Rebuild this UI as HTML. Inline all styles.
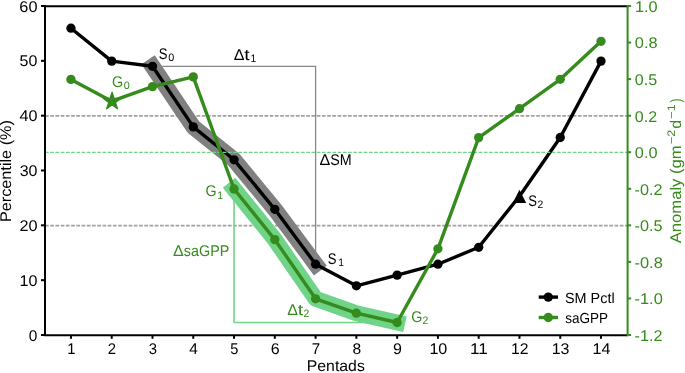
<!DOCTYPE html><html><head><meta charset="utf-8"><style>html,body{margin:0;padding:0;background:#fff;}svg{display:block;}text{font-family:"Liberation Sans", sans-serif;text-rendering:geometricPrecision;}</style></head><body>
<svg width="685" height="373" viewBox="0 0 685 373">
<rect x="0" y="0" width="685" height="373" fill="#fff"/>
<line x1="44.3" y1="225.53" x2="627.6" y2="225.53" stroke="#a2a2a2" stroke-width="1.7" stroke-dasharray="3.72 1.505" stroke-dashoffset="-0.7"/>
<line x1="44.3" y1="115.87" x2="627.6" y2="115.87" stroke="#a2a2a2" stroke-width="1.7" stroke-dasharray="3.72 1.505" stroke-dashoffset="-0.7"/>
<polyline points="152.50,66.30 193.27,126.90 234.05,159.80 274.82,209.30 315.60,264.20" fill="none" stroke="#808080" stroke-width="16" stroke-linejoin="round" stroke-linecap="square"/>
<polyline points="152.50,66.3 315.60,66.3 315.60,264.2" fill="none" stroke="#888" stroke-width="1.3"/>
<polyline points="70.95,28.20 111.72,61.10 152.50,66.30 193.27,126.90 234.05,159.80 274.82,209.30 315.60,264.20 356.38,285.80 397.15,275.10 437.92,264.20 478.70,247.30 519.48,196.20 560.25,137.50 601.02,61.10" fill="none" stroke="#000" stroke-width="3.4" stroke-linejoin="round"/>
<circle cx="70.95" cy="28.2" r="4.65" fill="#000"/>
<circle cx="111.72" cy="61.1" r="4.65" fill="#000"/>
<circle cx="152.50" cy="66.3" r="4.65" fill="#000"/>
<circle cx="193.27" cy="126.9" r="4.65" fill="#000"/>
<circle cx="234.05" cy="159.8" r="4.65" fill="#000"/>
<circle cx="274.82" cy="209.3" r="4.65" fill="#000"/>
<circle cx="315.60" cy="264.2" r="4.65" fill="#000"/>
<circle cx="356.38" cy="285.8" r="4.65" fill="#000"/>
<circle cx="397.15" cy="275.1" r="4.65" fill="#000"/>
<circle cx="437.92" cy="264.2" r="4.65" fill="#000"/>
<circle cx="478.70" cy="247.3" r="4.65" fill="#000"/>
<polygon points="519.48,189.70 512.77,203.10 526.18,203.10" fill="#000"/>
<circle cx="560.25" cy="137.5" r="4.65" fill="#000"/>
<circle cx="601.02" cy="61.1" r="4.65" fill="#000"/>
<line x1="44.3" y1="152.45" x2="627.6" y2="152.45" stroke="#6fd488" stroke-width="1.3" stroke-dasharray="3.72 1.505" stroke-dashoffset="-0.7"/>
<polyline points="234.05,189.00 274.82,239.60 315.60,298.80 356.38,313.20 397.15,322.50" fill="none" stroke="#6fd488" stroke-width="16" stroke-linejoin="round" stroke-linecap="square"/>
<polyline points="234.05,189.0 234.05,322.5 397.15,322.5" fill="none" stroke="#6fd488" stroke-width="1.6" stroke-linejoin="round"/>
<polyline points="70.95,79.40 111.72,101.20 152.50,86.60 193.27,76.90 234.05,189.00 274.82,239.60 315.60,298.80 356.38,313.20 397.15,322.50 437.92,248.80 478.70,137.60 519.48,108.70 560.25,79.30 601.02,41.30" fill="none" stroke="#358b1c" stroke-width="3.4" stroke-linejoin="round"/>
<circle cx="70.95" cy="79.4" r="4.65" fill="#358b1c"/>
<circle cx="152.50" cy="86.6" r="4.65" fill="#358b1c"/>
<circle cx="193.27" cy="76.9" r="4.65" fill="#358b1c"/>
<circle cx="234.05" cy="189.0" r="4.65" fill="#358b1c"/>
<circle cx="274.82" cy="239.6" r="4.65" fill="#358b1c"/>
<circle cx="315.60" cy="298.8" r="4.65" fill="#358b1c"/>
<circle cx="356.38" cy="313.2" r="4.65" fill="#358b1c"/>
<circle cx="397.15" cy="322.5" r="4.65" fill="#358b1c"/>
<circle cx="437.92" cy="248.8" r="4.65" fill="#358b1c"/>
<circle cx="478.70" cy="137.6" r="4.65" fill="#358b1c"/>
<circle cx="519.48" cy="108.7" r="4.65" fill="#358b1c"/>
<circle cx="560.25" cy="79.3" r="4.65" fill="#358b1c"/>
<circle cx="601.02" cy="41.3" r="4.65" fill="#358b1c"/>
<polygon points="112.07,92.20 114.13,98.52 120.78,98.52 115.40,102.43 117.45,108.75 112.07,104.84 106.70,108.75 108.75,102.43 103.37,98.52 110.02,98.52" fill="#358b1c" stroke="#358b1c" stroke-width="1.3" stroke-linejoin="round"/>
<line x1="45.0" y1="6.0" x2="45.0" y2="335.0" stroke="#000" stroke-width="2" stroke-linecap="square"/>
<line x1="45.0" y1="335.15" x2="627.6" y2="335.15" stroke="#000" stroke-width="2" stroke-linecap="square"/>
<line x1="45.0" y1="6.25" x2="627.6" y2="6.25" stroke="#000" stroke-width="2" stroke-linecap="square"/>
<line x1="627.6" y1="6.0" x2="627.6" y2="335.0" stroke="#358b1c" stroke-width="2" stroke-linecap="square"/>
<line x1="41.0" y1="335.00" x2="45.0" y2="335.00" stroke="#000" stroke-width="2"/>
<line x1="41.0" y1="280.17" x2="45.0" y2="280.17" stroke="#000" stroke-width="2"/>
<line x1="41.0" y1="225.33" x2="45.0" y2="225.33" stroke="#000" stroke-width="2"/>
<line x1="41.0" y1="170.50" x2="45.0" y2="170.50" stroke="#000" stroke-width="2"/>
<line x1="41.0" y1="115.67" x2="45.0" y2="115.67" stroke="#000" stroke-width="2"/>
<line x1="41.0" y1="60.83" x2="45.0" y2="60.83" stroke="#000" stroke-width="2"/>
<line x1="41.0" y1="6.00" x2="45.0" y2="6.00" stroke="#000" stroke-width="2"/>
<line x1="627.6" y1="335.00" x2="631.1" y2="335.00" stroke="#358b1c" stroke-width="2"/>
<line x1="627.6" y1="298.44" x2="631.1" y2="298.44" stroke="#358b1c" stroke-width="2"/>
<line x1="627.6" y1="261.89" x2="631.1" y2="261.89" stroke="#358b1c" stroke-width="2"/>
<line x1="627.6" y1="225.33" x2="631.1" y2="225.33" stroke="#358b1c" stroke-width="2"/>
<line x1="627.6" y1="188.78" x2="631.1" y2="188.78" stroke="#358b1c" stroke-width="2"/>
<line x1="627.6" y1="152.22" x2="631.1" y2="152.22" stroke="#358b1c" stroke-width="2"/>
<line x1="627.6" y1="115.67" x2="631.1" y2="115.67" stroke="#358b1c" stroke-width="2"/>
<line x1="627.6" y1="79.11" x2="631.1" y2="79.11" stroke="#358b1c" stroke-width="2"/>
<line x1="627.6" y1="42.56" x2="631.1" y2="42.56" stroke="#358b1c" stroke-width="2"/>
<line x1="627.6" y1="6.00" x2="631.1" y2="6.00" stroke="#358b1c" stroke-width="2"/>
<line x1="70.95" y1="335.0" x2="70.95" y2="338.8" stroke="#000" stroke-width="2"/>
<line x1="111.72" y1="335.0" x2="111.72" y2="338.8" stroke="#000" stroke-width="2"/>
<line x1="152.50" y1="335.0" x2="152.50" y2="338.8" stroke="#000" stroke-width="2"/>
<line x1="193.27" y1="335.0" x2="193.27" y2="338.8" stroke="#000" stroke-width="2"/>
<line x1="234.05" y1="335.0" x2="234.05" y2="338.8" stroke="#000" stroke-width="2"/>
<line x1="274.82" y1="335.0" x2="274.82" y2="338.8" stroke="#000" stroke-width="2"/>
<line x1="315.60" y1="335.0" x2="315.60" y2="338.8" stroke="#000" stroke-width="2"/>
<line x1="356.38" y1="335.0" x2="356.38" y2="338.8" stroke="#000" stroke-width="2"/>
<line x1="397.15" y1="335.0" x2="397.15" y2="338.8" stroke="#000" stroke-width="2"/>
<line x1="437.92" y1="335.0" x2="437.92" y2="338.8" stroke="#000" stroke-width="2"/>
<line x1="478.70" y1="335.0" x2="478.70" y2="338.8" stroke="#000" stroke-width="2"/>
<line x1="519.48" y1="335.0" x2="519.48" y2="338.8" stroke="#000" stroke-width="2"/>
<line x1="560.25" y1="335.0" x2="560.25" y2="338.8" stroke="#000" stroke-width="2"/>
<line x1="601.02" y1="335.0" x2="601.02" y2="338.8" stroke="#000" stroke-width="2"/>
<line x1="538.7" y1="297.1" x2="558" y2="297.1" stroke="#000" stroke-width="3.4"/>
<circle cx="548.3" cy="297.1" r="4.65" fill="#000"/>
<line x1="538.7" y1="317.5" x2="558" y2="317.5" stroke="#358b1c" stroke-width="3.4"/>
<circle cx="548.3" cy="317.5" r="4.65" fill="#358b1c"/>
<g style="will-change:transform">
<text transform="translate(28.83,340.65) scale(0.9975,1)" font-size="15.51" fill="#000">0</text>
<text transform="translate(19.52,285.82) scale(1.0400,1)" font-size="15.51" fill="#000">10</text>
<text transform="translate(19.39,230.98) scale(1.0478,1)" font-size="15.51" fill="#000">20</text>
<text transform="translate(19.64,176.15) scale(1.0329,1)" font-size="15.51" fill="#000">30</text>
<text transform="translate(19.48,121.32) scale(1.0425,1)" font-size="15.51" fill="#000">40</text>
<text transform="translate(19.62,66.48) scale(1.0340,1)" font-size="15.51" fill="#000">50</text>
<text transform="translate(19.33,11.65) scale(1.0516,1)" font-size="15.51" fill="#000">60</text>
<text transform="translate(634.50,340.85) scale(1.0465,1)" font-size="15.51" fill="#358b1c">-1.2</text>
<text transform="translate(634.50,304.29) scale(1.0591,1)" font-size="15.51" fill="#358b1c">-1.0</text>
<text transform="translate(634.50,267.74) scale(1.0606,1)" font-size="15.51" fill="#358b1c">-0.8</text>
<text transform="translate(634.50,231.18) scale(1.0489,1)" font-size="15.51" fill="#358b1c">-0.5</text>
<text transform="translate(634.50,194.63) scale(1.0465,1)" font-size="15.51" fill="#358b1c">-0.2</text>
<text transform="translate(634.83,158.07) scale(1.0514,1)" font-size="15.51" fill="#358b1c">0.0</text>
<text transform="translate(634.84,121.52) scale(1.0355,1)" font-size="15.51" fill="#358b1c">0.2</text>
<text transform="translate(634.84,84.96) scale(1.0386,1)" font-size="15.51" fill="#358b1c">0.5</text>
<text transform="translate(634.83,48.41) scale(1.0531,1)" font-size="15.51" fill="#358b1c">0.8</text>
<text transform="translate(634.88,11.85) scale(1.0492,1)" font-size="15.51" fill="#358b1c">1.0</text>
<text transform="translate(67.17,353.50) scale(0.9527,1)" font-size="15.51" fill="#000">1</text>
<text transform="translate(107.78,353.50) scale(0.9606,1)" font-size="15.51" fill="#000">2</text>
<text transform="translate(148.78,353.50) scale(0.9580,1)" font-size="15.51" fill="#000">3</text>
<text transform="translate(189.37,353.50) scale(0.9968,1)" font-size="15.51" fill="#000">4</text>
<text transform="translate(230.33,353.50) scale(0.9421,1)" font-size="15.51" fill="#000">5</text>
<text transform="translate(270.77,353.50) scale(1.0323,1)" font-size="15.51" fill="#000">6</text>
<text transform="translate(311.76,353.50) scale(0.9752,1)" font-size="15.51" fill="#000">7</text>
<text transform="translate(352.43,353.50) scale(1.0065,1)" font-size="15.51" fill="#000">8</text>
<text transform="translate(393.06,353.50) scale(1.0300,1)" font-size="15.51" fill="#000">9</text>
<text transform="translate(429.38,353.50) scale(1.0400,1)" font-size="15.51" fill="#000">10</text>
<text transform="translate(470.07,353.50) scale(1.1088,1)" font-size="15.51" fill="#000">11</text>
<text transform="translate(510.95,353.50) scale(1.0190,1)" font-size="15.51" fill="#000">12</text>
<text transform="translate(551.71,353.50) scale(1.0319,1)" font-size="15.51" fill="#000">13</text>
<text transform="translate(592.48,353.50) scale(1.0391,1)" font-size="15.51" fill="#000">14</text>
<text transform="translate(306.77,371.20) scale(1.0204,1)" font-size="15.51" fill="#000">Pentads</text>
<text transform="translate(11.30,222.10) rotate(-90) scale(1.0481,1)" font-size="15.51" fill="#000">Percentile (%)</text>
<text transform="translate(681.00,243.32) rotate(-90) scale(1.0739,1)" font-size="15.51" fill="#358b1c">Anomaly (gm</text>
<text transform="translate(674.70,144.09) rotate(-90) scale(1.1524,1)" font-size="10.85" fill="#358b1c">−2</text>
<text transform="translate(681.00,128.79) rotate(-90) scale(1.0281,1)" font-size="15.51" fill="#358b1c">d</text>
<text transform="translate(674.70,118.64) rotate(-90) scale(1.1585,1)" font-size="10.85" fill="#358b1c">−1</text>
<text transform="translate(681.00,102.38) rotate(-90) scale(0.7997,1)" font-size="15.51" fill="#358b1c">)</text>
<text transform="translate(158.87,58.50) scale(0.8441,1)" font-size="15.51" fill="#000">S</text><text transform="translate(168.36,60.70) scale(0.9975,1)" font-size="10.85" fill="#000">0</text>
<text transform="translate(233.83,59.55) scale(1.0394,1)" font-size="15.51" fill="#000">Δ</text><text transform="translate(244.34,59.55) scale(1.2602,1)" font-size="15.51" fill="#000">t</text><text transform="translate(250.54,61.90) scale(0.9527,1)" font-size="10.85" fill="#000">1</text>
<text transform="translate(319.48,164.85) scale(1.0394,1)" font-size="15.51" fill="#000">Δ</text><text transform="translate(330.20,164.85) scale(0.9199,1)" font-size="15.51" fill="#000">SM</text>
<text transform="translate(327.77,263.50) scale(0.8441,1)" font-size="15.51" fill="#000">S</text><text transform="translate(338.19,266.15) scale(0.9527,1)" font-size="10.85" fill="#000">1</text>
<text transform="translate(528.22,205.60) scale(0.8441,1)" font-size="15.51" fill="#000">S</text><text transform="translate(537.53,207.95) scale(0.9606,1)" font-size="10.85" fill="#000">2</text>
<text transform="translate(111.91,86.80) scale(0.9229,1)" font-size="15.51" fill="#358b1c">G</text><text transform="translate(123.86,88.80) scale(0.9975,1)" font-size="10.85" fill="#358b1c">0</text>
<text transform="translate(205.61,196.40) scale(0.9229,1)" font-size="15.51" fill="#358b1c">G</text><text transform="translate(217.14,198.70) scale(0.9527,1)" font-size="10.85" fill="#358b1c">1</text>
<text transform="translate(173.03,255.90) scale(1.0394,1)" font-size="15.51" fill="#358b1c">Δ</text><text transform="translate(183.82,255.90) scale(0.9277,1)" font-size="15.51" fill="#358b1c">saGPP</text>
<text transform="translate(287.23,314.95) scale(1.0394,1)" font-size="15.51" fill="#358b1c">Δ</text><text transform="translate(297.74,314.95) scale(1.2602,1)" font-size="15.51" fill="#358b1c">t</text><text transform="translate(303.43,316.70) scale(0.9606,1)" font-size="10.85" fill="#358b1c">2</text>
<text transform="translate(411.21,321.70) scale(0.9229,1)" font-size="15.51" fill="#358b1c">G</text><text transform="translate(422.53,324.40) scale(0.9606,1)" font-size="10.85" fill="#358b1c">2</text>
<text transform="translate(565.00,302.60) scale(0.9875,1)" font-size="14.59" fill="#000">SM Pctl</text>
<text transform="translate(565.17,323.00) scale(0.9277,1)" font-size="14.59" fill="#000">saGPP</text>
</g>
</svg></body></html>
